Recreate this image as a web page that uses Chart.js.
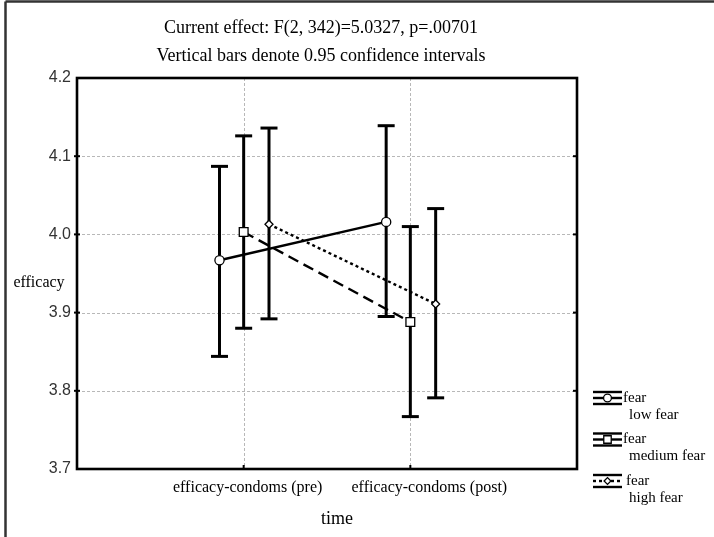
<!DOCTYPE html>
<html>
<head>
<meta charset="utf-8">
<script src="https://cdn.jsdelivr.net/npm/chart.js@4.4.1/dist/chart.umd.min.js"></script>
<style>
  html, body { margin: 0; padding: 0; background: #fff; }
  canvas { display: block; }
</style>
</head>
<body>
<canvas id="chart" width="714" height="537"></canvas>
<script>
// Time (pre / post) by fear level: group means with 0.95 confidence limits
const categories = ['efficacy-condoms (pre)', 'efficacy-condoms (post)'];
const seriesNames = ['low fear', 'medium fear', 'high fear'];

const lowMean    = [3.967, 4.016];
const lowLower   = [3.844, 3.895];
const lowUpper   = [4.087, 4.139];

const mediumMean  = [4.003, 3.888];
const mediumLower = [3.880, 3.767];
const mediumUpper = [4.126, 4.010];

const highMean  = [4.013, 3.911];
const highLower = [3.892, 3.791];
const highUpper = [4.136, 4.033];

const yTicks = [3.7, 3.8, 3.9, 4.0, 4.1, 4.2];
const titleLines = [
  'Current effect: F(2, 342)=5.0327, p=.00701',
  'Vertical bars denote 0.95 confidence intervals'
];
const xTitle = 'time';
const yTitle = 'efficacy';
const factorName = 'fear';

const SERIF = '"Liberation Serif", "Times New Roman", serif';
const SANS = '"Liberation Sans", Arial, sans-serif';

// horizontal dodge of the three groups around each time point (x units)
const DODGE = [-0.145, 0, 0.152];

const series = [
  { name: seriesNames[0], mean: lowMean,    lo: lowLower,    hi: lowUpper,    point: 'circle',  radius: 4.6, dash: [],      keyDash: [] },
  { name: seriesNames[1], mean: mediumMean, lo: mediumLower, hi: mediumUpper, point: 'rect',    radius: 6.2, dash: [11, 6], keyDash: [] },
  { name: seriesNames[2], mean: highMean,   lo: highLower,   hi: highUpper,   point: 'rectRot', radius: 4.0, dash: [3, 3],  keyDash: [3, 3] }
];

const datasets = series.map((s, d) => ({
  label: s.name,
  data: s.mean.map((v, i) => ({ x: i + 1 + DODGE[d], y: v })),
  borderColor: '#000',
  borderWidth: 2.4,
  borderDash: s.dash,
  pointStyle: s.point,
  pointRadius: s.radius,
  pointHoverRadius: s.radius,
  pointBackgroundColor: '#fff',
  pointBorderColor: '#000',
  pointBorderWidth: 1.3,
  fill: false,
  tension: 0
}));

function line(ctx, x1, y1, x2, y2) {
  ctx.beginPath();
  ctx.moveTo(x1, y1);
  ctx.lineTo(x2, y2);
  ctx.stroke();
}

// dotted grid, confidence interval whiskers
const backdrop = {
  id: 'backdrop',
  beforeDatasetsDraw(chart) {
    const { ctx, chartArea: a, scales: { x, y } } = chart;
    ctx.save();
    ctx.strokeStyle = '#b8b8b8';
    ctx.lineWidth = 1;
    ctx.setLineDash([3, 2]);
    yTicks.forEach(v => {
      const py = Math.round(y.getPixelForValue(v)) + 0.5;
      if (py > a.top + 2 && py < a.bottom - 2) line(ctx, a.left, py, a.right, py);
    });
    categories.forEach((c, i) => {
      const px = Math.round(x.getPixelForValue(i + 1)) + 0.5;
      line(ctx, px, a.top, px, a.bottom);
    });
    ctx.setLineDash([]);

    ctx.strokeStyle = '#000';
    ctx.lineWidth = 3;
    series.forEach((s, d) => {
      s.mean.forEach((m, i) => {
        const px = x.getPixelForValue(i + 1 + DODGE[d]);
        const top = y.getPixelForValue(s.hi[i]);
        const bot = y.getPixelForValue(s.lo[i]);
        line(ctx, px, top, px, bot);
        line(ctx, px - 8.5, top, px + 8.5, top);
        line(ctx, px - 8.5, bot, px + 8.5, bot);
      });
    });
    ctx.restore();
  },
  afterDraw(chart) {
    const { ctx, chartArea: a, scales: { x, y } } = chart;
    ctx.save();

    // plot frame and tick marks
    ctx.strokeStyle = '#000';
    ctx.lineWidth = 2.6;
    ctx.strokeRect(a.left, a.top, a.right - a.left, a.bottom - a.top);
    ctx.lineWidth = 2;
    yTicks.forEach(v => {
      const py = y.getPixelForValue(v);
      if (py > a.top + 2 && py < a.bottom - 2) {
        line(ctx, a.left - 3, py, a.left + 3, py);
        line(ctx, a.right, py, a.right - 4, py);
      }
    });
    categories.forEach((c, i) => {
      const px = x.getPixelForValue(i + 1);
      line(ctx, px, a.bottom, px, a.bottom - 4);
    });

    // outer frame
    ctx.strokeStyle = '#333';
    ctx.lineWidth = 2.5;
    line(ctx, 5.5, 1.5, 5.5, 537);
    line(ctx, 5.5, 1.5, 714, 1.5);

    // titles
    ctx.fillStyle = '#000';
    ctx.textAlign = 'center';
    ctx.textBaseline = 'middle';
    ctx.font = '18px ' + SERIF;
    ctx.fillText(titleLines[0], 321, 28);
    ctx.fillText(titleLines[1], 321, 56);

    // category labels
    const labelShift = [4, 19];
    ctx.font = '16px ' + SERIF;
    categories.forEach((c, i) => {
      ctx.fillText(c, x.getPixelForValue(i + 1) + labelShift[i], a.bottom + 19);
    });
    ctx.font = '18px ' + SERIF;
    ctx.fillText(xTitle, 337, a.bottom + 50);
    ctx.font = '16px ' + SERIF;
    ctx.fillText(yTitle, 39, 283);

    // legend
    const lx0 = 593, lx1 = 622;
    ctx.textAlign = 'left';
    ctx.font = '15px ' + SERIF;
    series.forEach((s, d) => {
      const ly = 398 + d * 41.5;
      ctx.strokeStyle = '#000';
      ctx.lineWidth = 2.4;
      line(ctx, lx0, ly - 6, lx1, ly - 6);
      line(ctx, lx0, ly + 6, lx1, ly + 6);
      ctx.setLineDash(s.keyDash);
      line(ctx, lx0, ly, lx1, ly);
      ctx.setLineDash([]);
      ctx.fillStyle = '#fff';
      ctx.lineWidth = 1.3;
      Chart.helpers.drawPoint(ctx, {
        pointStyle: s.point, radius: s.radius * 0.85, rotation: 0, borderWidth: 1.3
      }, (lx0 + lx1) / 2, ly);
      ctx.fillStyle = '#000';
      ctx.fillText(factorName, lx1 + (d === 2 ? 4 : 1), ly);
      ctx.fillText(s.name, 629, ly + 17);
    });
    ctx.restore();
  }
};

new Chart(document.getElementById('chart'), {
  type: 'line',
  data: { datasets },
  options: {
    responsive: false,
    animation: false,
    devicePixelRatio: 1,
    layout: { padding: { left: 0, top: 78, right: 137, bottom: 0 } },
    plugins: {
      legend: { display: false },
      title: { display: false },
      tooltip: { enabled: false }
    },
    scales: {
      x: {
        type: 'linear',
        min: 0,
        max: 3,
        grid: { display: false, drawTicks: false },
        border: { display: false },
        ticks: { display: false },
        afterFit(s) { s.height = 68; }
      },
      y: {
        type: 'linear',
        min: 3.7,
        max: 4.2,
        afterBuildTicks(s) { s.ticks = yTicks.map(v => ({ value: v })); },
        grid: { display: false, drawTicks: false },
        border: { display: false },
        ticks: {
          callback: v => Number(v).toFixed(1),
          color: '#333',
          font: { family: SANS, size: 16 },
          padding: 6,
          autoSkip: false
        },
        afterFit(s) { s.width = 77; }
      }
    }
  },
  plugins: [backdrop]
});
</script>
</body>
</html>
